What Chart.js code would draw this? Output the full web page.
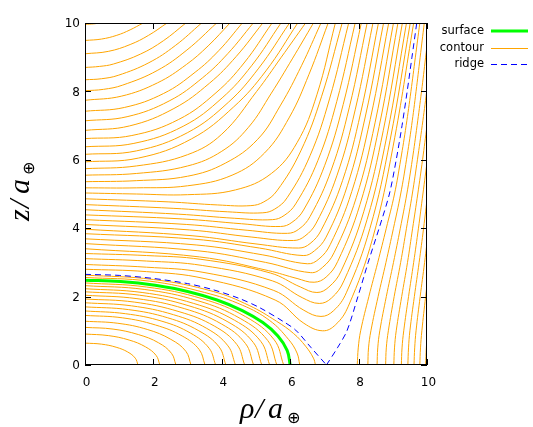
<!DOCTYPE html>
<html>
<head>
<meta charset="utf-8">
<script src="https://cdn.jsdelivr.net/npm/chart.js@4"></script>
<style>
html,body{margin:0;padding:0;background:#fff;}
#wrap{width:533px;height:427px;}
</style>
</head>
<body>
<div id="wrap"><canvas id="c" width="533" height="427"></canvas></div>
<script>
/* axes */
const xTicks = [0, 2, 4, 6, 8, 10];
const yTicks = [0, 2, 4, 6, 8, 10];
const legendLabels = ["surface", "contour", "ridge"];

/* surface (rho, z) */
const surfaceLine = [[6,0],[5.91,0.43],[5.64,0.85],[5.20,1.24],[4.60,1.59],[3.86,1.90],[3.00,2.15],[2.05,2.33],[1.04,2.44],[0,2.48]];

/* ridge through the saddle */
const ridgeLeft  = [[0,2.65],[1,2.62],[2,2.53],[3,2.38],[3.75,2.20],[4.5,1.95],[5.1,1.68],[5.8,1.27],[6.16,1.02],[6.6,0.52],[7.06,0]];
const ridgeRight = [[7.06,0],[7.38,0.5],[7.66,1],[7.98,2],[8.28,3],[8.60,4],[8.90,5],[9.10,6],[9.27,7],[9.42,8],[9.56,9],[9.70,10]];

/* contours around the origin (below the ridge) */
const innerContours = [
  [[1.55,0],[1.47,0.20],[1.25,0.38],[0.91,0.52],[0.48,0.61],[0,0.64]],
  [[2.19,0],[2.08,0.28],[1.77,0.53],[1.29,0.73],[0.68,0.86],[0,0.905]],
  [[2.66,0],[2.53,0.34],[2.15,0.65],[1.56,0.89],[0.82,1.05],[0,1.10]],
  [[3.10,0],[2.95,0.40],[2.51,0.75],[1.82,1.04],[0.96,1.22],[0,1.28]],
  [[3.51,0],[3.34,0.45],[2.84,0.85],[2.06,1.17],[1.09,1.38],[0,1.45]],
  [[3.82,0],[3.63,0.49],[3.09,0.93],[2.25,1.28],[1.18,1.50],[0,1.58]],
  [[4.12,0],[3.92,0.53],[3.33,1.00],[2.42,1.38],[1.27,1.62],[0,1.70]],
  [[4.40,0],[4.18,0.56],[3.56,1.07],[2.59,1.47],[1.36,1.73],[0,1.82]],
  [[4.67,0],[4.44,0.60],[3.78,1.14],[2.75,1.56],[1.44,1.84],[0,1.93]],
  [[4.93,0],[4.69,0.63],[3.99,1.20],[2.90,1.65],[1.52,1.94],[0,2.04]],
  [[5.17,0],[4.92,0.66],[4.18,1.26],[3.04,1.73],[1.60,2.04],[0,2.14]],
  [[5.40,0],[5.14,0.69],[4.37,1.31],[3.18,1.80],[1.67,2.12],[0,2.23]],
  [[5.61,0],[5.34,0.72],[4.54,1.36],[3.30,1.88],[1.73,2.21],[0,2.32]],
  [[5.81,0],[5.53,0.74],[4.70,1.41],[3.42,1.94],[1.80,2.28],[0,2.40]],
  [[6.28,0],[6.2,0.35],[5.95,0.75],[5.4,1.30],[4.6,1.75],[3.5,2.12],[1.9,2.45],[0,2.56]],
  [[6.74,0],[6.68,0.2],[6.45,0.55],[6.1,0.92],[5.6,1.28],[4.8,1.74],[3.75,2.15],[2,2.50],[0,2.63]]
];

/* contours above the ridge (axis -> top edge) */
const upperContours = [
  [[0,2.80],[1.8,2.73],[3.48,2.53],[5.56,1.90],[6.4,1.22],[6.95,1.00],[7.33,1.18],[7.70,1.72],[8.41,3.70],[9.01,6.40],[9.61,10]],
  [[0,2.94],[1.8,2.86],[3.45,2.71],[5.52,2.18],[6.4,1.6],[6.90,1.42],[7.27,1.59],[7.64,2.11],[8.33,3.99],[8.92,6.57],[9.51,10]],
  [[0,3.11],[1.8,3.04],[3.43,2.91],[5.48,2.46],[6.35,1.97],[6.85,1.80],[7.21,1.96],[7.57,2.46],[8.25,4.26],[8.83,6.72],[9.40,10]],
  [[0,3.26],[1.8,3.2],[3.39,3.09],[5.42,2.69],[6.3,2.28],[6.78,2.12],[7.13,2.28],[7.49,2.75],[8.15,4.48],[8.72,6.85],[9.28,10]],
  [[0,3.40],[3.35,3.16],[5.36,2.76],[6.2,2.53],[6.70,2.42],[7.05,2.57],[7.39,3.03],[8.04,4.69],[8.60,6.97],[9.15,10]],
  [[0,3.55],[3.30,3.34],[5.28,3.00],[6.60,2.70],[6.94,2.85],[7.28,3.28],[7.93,4.89],[8.48,7.08],[9.02,10]],
  [[0,3.69],[3.25,3.51],[5.20,3.22],[6.50,2.96],[6.84,3.10],[7.17,3.52],[7.80,5.07],[8.34,7.18],[8.88,10]],
  [[0,3.84],[3.19,3.68],[5.10,3.42],[6.38,3.20],[6.71,3.34],[7.05,3.74],[7.67,5.24],[8.20,7.28],[8.73,10]],
  [[0,3.97],[3.13,3.78],[5.00,3.54],[6.25,3.42],[6.58,3.55],[6.91,3.95],[7.53,5.39],[8.06,7.37],[8.58,10]],
  [[0,4.11],[3.05,3.95],[4.88,3.74],[6.10,3.64],[6.43,3.77],[6.76,4.15],[7.37,5.55],[7.90,7.46],[8.42,10]],
  [[0,4.25],[2.96,4.11],[4.74,3.94],[5.92,3.85],[6.25,3.97],[6.58,4.34],[7.20,5.70],[7.73,7.54],[8.25,10]],
  [[0,4.39],[2.86,4.27],[4.58,4.13],[5.72,4.05],[6.05,4.17],[6.39,4.53],[7.01,5.84],[7.55,7.62],[8.08,10]],
  [[0,4.54],[2.74,4.41],[4.38,4.29],[5.48,4.25],[5.82,4.37],[6.16,4.71],[6.81,5.98],[7.36,7.70],[7.90,10]],
  [[0,4.69],[2.60,4.58],[4.16,4.48],[5.20,4.45],[5.55,4.56],[5.91,4.89],[6.58,6.12],[7.15,7.78],[7.71,10]],
  [[0,4.86],[2.43,4.77],[3.88,4.68],[4.85,4.66],[5.23,4.77],[5.61,5.09],[6.31,6.26],[6.92,7.86],[7.52,10]],
  [[0,5.03],[1.5,5.0],[3,4.98],[4.4,5.12],[5.45,5.6],[6.2,6.5],[6.78,7.9],[7.32,10]],
  [[0,5.18],[1.5,5.18],[3,5.24],[4.3,5.55],[5.25,6.2],[5.98,7.25],[6.55,8.5],[7.11,10]],
  [[0,5.36],[1.5,5.39],[3,5.52],[4.1,5.9],[5.05,6.6],[5.72,7.6],[6.33,8.75],[6.90,10]],
  [[0,5.55],[1.5,5.6],[3,5.82],[4.0,6.25],[4.78,6.95],[5.45,7.95],[6.06,8.95],[6.68,10]],
  [[0,5.74],[1.5,5.82],[3,6.15],[4.0,6.75],[5.02,8.0],[5.74,9.0],[6.45,10]],
  [[0,5.94],[1.56,6.05],[3.11,6.61],[4.35,7.55],[5.29,8.60],[6.22,10]],
  [[0,6.16],[1.50,6.26],[2.99,6.79],[4.19,7.68],[5.08,8.68],[5.98,10]],
  [[0,6.38],[1.43,6.48],[2.87,6.98],[4.01,7.81],[4.87,8.75],[5.73,10]],
  [[0,6.62],[1.37,6.71],[2.74,7.18],[3.83,7.96],[4.65,8.83],[5.47,10]],
  [[0,6.86],[1.30,6.99],[2.60,7.50],[3.64,8.24],[4.42,9.02],[5.20,10]],
  [[0,7.14],[1.23,7.26],[2.46,7.72],[3.44,8.40],[4.18,9.11],[4.92,10]],
  [[0,7.42],[1.15,7.53],[2.30,7.94],[3.22,8.56],[3.91,9.19],[4.60,10]],
  [[0,7.74],[1.06,7.86],[2.12,8.25],[2.97,8.79],[3.60,9.33],[4.24,10]],
  [[0,8.02],[0.54,8.06],[1.09,8.18],[2.11,8.61],[2.98,9.21],[3.85,10]],
  [[0,8.34],[0.48,8.37],[0.97,8.47],[1.87,8.84],[2.64,9.34],[3.41,10]],
  [[0,8.70],[0.42,8.73],[0.83,8.80],[1.62,9.09],[2.29,9.48],[2.95,10]],
  [[0,9.10],[0.68,9.17],[1.32,9.37],[1.86,9.64],[2.40,10]],
  [[0,9.49],[0.48,9.53],[0.93,9.64],[1.32,9.80],[1.70,10]],
  [[0,9.96],[0.25,9.975],[0.45,10]]
];

/* contours right of the ridge (bottom edge -> right/top edge) */
const outerContours = [
  [[7.96,0],[7.99,0.5],[8.06,1],[8.3,2],[8.56,3],[8.81,4],[9.05,5],[9.23,6],[9.39,7],[9.53,8],[9.66,9],[9.79,10]],
  [[8.27,0],[8.29,0.5],[8.36,1],[8.57,2],[8.8,3],[9.02,4],[9.23,5],[9.40,6],[9.55,7],[9.68,8],[9.80,9],[9.92,10]],
  [[8.54,0],[8.56,0.5],[8.62,1],[8.81,2],[9.02,3],[9.22,4],[9.41,5],[9.57,6],[9.71,7],[9.84,8],[9.96,9],[10.08,10]],
  [[8.79,0],[8.81,0.5],[8.87,1],[9.04,2],[9.23,3],[9.40,4],[9.57,5],[9.72,6],[9.86,7],[9.99,8],[10.11,9]],
  [[9.03,0],[9.05,0.5],[9.10,1],[9.26,2],[9.43,3],[9.58,4],[9.73,5],[9.87,6],[10.0,7],[10.13,8]],
  [[9.25,0],[9.27,0.5],[9.32,1],[9.46,2],[9.61,3],[9.75,4],[9.88,5],[10.01,6],[10.14,7]],
  [[9.44,0],[9.46,0.5],[9.5,1],[9.63,2],[9.77,3],[9.9,4],[10.02,5]],
  [[9.62,0],[9.64,0.5],[9.68,1],[9.8,2],[9.93,3],[10.05,4]],
  [[9.79,0],[9.81,0.5],[9.85,1],[9.96,2],[10.08,3]],
  [[9.96,0],[9.98,0.5],[10.02,1],[10.12,2]]
];

/* styles */
const ORANGE = "#ffa500", GREEN = "#00ff00", BLUE = "#0000ff";
const DASH = [6, 4];

const toXY = arr => arr.map(p => ({x: p[0], y: p[1]}));
function curve(arr, color, width, extra){
  return Object.assign({
    data: toXY(arr), showLine: true, borderColor: color, borderWidth: width,
    pointRadius: 0, pointHoverRadius: 0, tension: 0.4, fill: false, clip: 0
  }, extra || {});
}

const datasets = [
  curve(ridgeLeft, BLUE, 1, {borderDash: DASH, tension: 0.3}),
  curve(ridgeRight, BLUE, 1, {borderDash: DASH, tension: 0.3}),
  curve(surfaceLine, GREEN, 3),
  ...innerContours.map(c => curve(c, ORANGE, 1)),
  ...upperContours.map(c => curve(c, ORANGE, 1)),
  ...outerContours.map(c => curve(c, ORANGE, 1))
];

/* frame, inward ticks, labels, legend (gnuplot look) */
const decor = {
  id: "decor",
  afterDraw(chart){
    const {ctx, chartArea: a, scales: {x, y}} = chart;
    ctx.save();
    ctx.strokeStyle = "#000";
    ctx.lineWidth = 1;
    ctx.setLineDash([]);
    ctx.strokeRect(a.left + 0.5, a.top + 0.5, a.right - a.left - 1, a.bottom - a.top - 1);

    ctx.beginPath();
    xTicks.forEach(v => {
      const px = Math.round(x.getPixelForValue(v)) + 0.5;
      ctx.moveTo(px, a.bottom); ctx.lineTo(px, a.bottom - 6);
      ctx.moveTo(px, a.top);    ctx.lineTo(px, a.top + 6);
    });
    yTicks.forEach(v => {
      const py = Math.round(y.getPixelForValue(v)) + 0.5;
      ctx.moveTo(a.left, py);  ctx.lineTo(a.left + 6, py);
      ctx.moveTo(a.right, py); ctx.lineTo(a.right - 6, py);
    });
    ctx.stroke();

    // tick labels
    ctx.fillStyle = "#000";
    ctx.font = '12px "DejaVu Sans"';
    ctx.textBaseline = "middle";
    ctx.textAlign = "center";
    xTicks.forEach(v => ctx.fillText(String(v), x.getPixelForValue(v) + 1.5, a.bottom + 18));
    ctx.textAlign = "right";
    yTicks.forEach(v => ctx.fillText(String(v), a.left - 5, y.getPixelForValue(v) + 1));

    // axis titles
    const serif = 'italic 30px "Liberation Serif"';
    const oplus = '16px "DejaVu Sans"';
    ctx.textAlign = "left";
    ctx.textBaseline = "alphabetic";
    ctx.font = serif;
    ctx.fillText("\u03c1", 240, 418);
    ctx.fillText("/", 255, 418);
    ctx.fillText("a", 268, 418);
    ctx.font = oplus;
    ctx.fillText("\u2295", 287, 423);

    ctx.save();
    ctx.translate(29, 221);
    ctx.rotate(-Math.PI / 2);
    ctx.font = serif;
    ctx.fillText("z", 0, 0);
    ctx.fillText("/", 13, 0);
    ctx.fillText("a", 27, 0);
    ctx.font = oplus;
    ctx.fillText("\u2295", 46, 5);
    ctx.restore();

    // legend
    const rows = [31, 48, 64];
    ctx.font = '11.5px "DejaVu Sans"';
    ctx.textAlign = "right";
    ctx.textBaseline = "middle";
    legendLabels.forEach((t, i) => ctx.fillText(t, 484, rows[i]));
    const x0 = 491, x1 = 528;
    ctx.lineWidth = 3; ctx.strokeStyle = GREEN;
    ctx.beginPath(); ctx.moveTo(x0, rows[0]); ctx.lineTo(x1, rows[0]); ctx.stroke();
    ctx.lineWidth = 1; ctx.strokeStyle = ORANGE;
    ctx.beginPath(); ctx.moveTo(x0, rows[1] + 0.5); ctx.lineTo(x1, rows[1] + 0.5); ctx.stroke();
    ctx.strokeStyle = BLUE; ctx.setLineDash(DASH);
    ctx.beginPath(); ctx.moveTo(x0, rows[2] + 0.5); ctx.lineTo(x1, rows[2] + 0.5); ctx.stroke();
    ctx.restore();
  }
};

new Chart(document.getElementById("c"), {
  type: "scatter",
  data: {datasets},
  options: {
    responsive: false,
    devicePixelRatio: 1,
    animation: false,
    events: [],
    layout: {padding: {left: 85, right: 106, top: 23, bottom: 62}},
    plugins: {legend: {display: false}, tooltip: {enabled: false}},
    scales: {
      x: {type: "linear", min: 0, max: 10, display: false},
      y: {type: "linear", min: 0, max: 10, display: false}
    }
  },
  plugins: [decor]
});
</script>
</body>
</html>
